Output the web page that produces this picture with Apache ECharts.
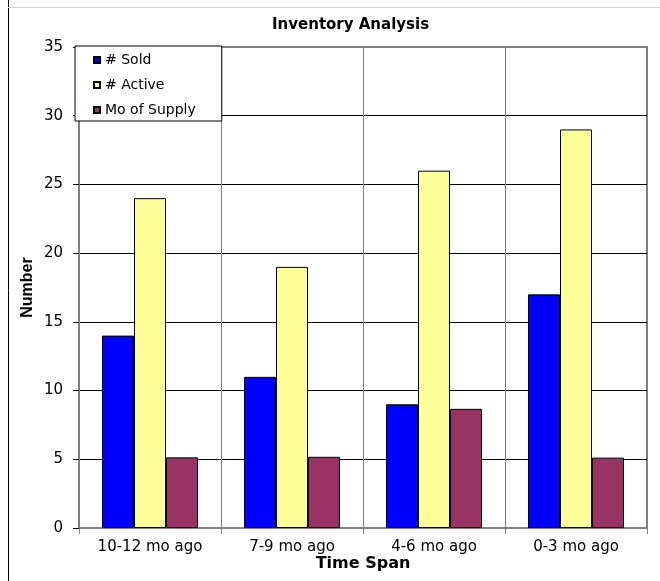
<!DOCTYPE html>
<html>
<head>
<meta charset="utf-8">
<script src="https://cdn.jsdelivr.net/npm/echarts@6/dist/echarts.min.js"></script>
<style>
html,body{margin:0;padding:0;background:#fff;}
#chart{width:660px;height:581px;}
</style>
</head>
<body>
<div id="chart"></div>
<script>
var categories = ['10-12 mo ago', '7-9 mo ago', '4-6 mo ago', '0-3 mo ago'];
var soldValues = [14, 11, 9, 17];
var activeValues = [24, 19, 26, 29];
var supplyValues = [5.14, 5.18, 8.67, 5.12];
var seriesNames = ['# Sold', '# Active', 'Mo of Supply'];

var FONT = 'DejaVu Sans';
var chart = echarts.init(document.getElementById('chart'));
var barStyle = function (c) {
  return { color: c, borderColor: '#000', borderWidth: 1 };
};
chart.setOption({
  animation: false,
  backgroundColor: '#fff',
  title: {
    text: 'Inventory Analysis',
    left: 272, top: 18, padding: 0,
    textStyle: { fontFamily: FONT, fontSize: 15, fontWeight: 'bold', color: '#000' }
  },
  legend: {
    data: seriesNames,
    orient: 'vertical',
    left: 75, top: 46,
    padding: [7, 26, 4, 18],
    itemWidth: 6, itemHeight: 6,
    itemGap: 11,
    icon: 'rect',
    backgroundColor: '#fff',
    borderColor: '#000', borderWidth: 1,
    textStyle: { fontFamily: FONT, fontSize: 14, color: '#000', lineHeight: 14 }
  },
  grid: {
    left: 79, right: 13, top: 47, bottom: 53,
    show: true, borderColor: '#808080', borderWidth: 2, backgroundColor: '#fff'
  },
  xAxis: {
    type: 'category',
    data: categories,
    name: 'Time Span',
    nameLocation: 'middle',
    nameGap: 28,
    nameMoveOverlap: false,
    nameTextStyle: { fontFamily: FONT, fontSize: 16, fontWeight: 'bold', color: '#000' },
    axisLine: { lineStyle: { color: '#808080', width: 1.5 } },
    axisTick: { show: true, length: 6, lineStyle: { color: '#808080' } },
    axisLabel: { fontFamily: FONT, fontSize: 15, color: '#000', margin: 12 },
    splitLine: { show: true, lineStyle: { color: '#808080', width: 1 } }
  },
  yAxis: {
    type: 'value',
    min: 0, max: 35, interval: 5,
    name: 'Number',
    nameLocation: 'middle',
    nameGap: 43,
    nameMoveOverlap: false,
    nameTextStyle: { fontFamily: 'Liberation Sans', fontSize: 16, fontWeight: 'bold', color: '#000' },
    axisLine: { show: true, lineStyle: { color: '#808080', width: 1.5 } },
    axisTick: { show: true, length: 6, lineStyle: { color: '#000' } },
    axisLabel: { fontFamily: FONT, fontSize: 15, color: '#000', margin: 16 },
    splitLine: { show: true, lineStyle: { color: ['#808080', '#000', '#000', '#000', '#000', '#000', '#000', '#808080'], width: 1 } }
  },
  series: [
    { name: seriesNames[0], type: 'bar', data: soldValues, barWidth: 32, barGap: '0%', itemStyle: barStyle('#0000FF') },
    { name: seriesNames[1], type: 'bar', data: activeValues, barWidth: 32, barGap: '0%', itemStyle: barStyle('#FFFF99') },
    { name: seriesNames[2], type: 'bar', data: supplyValues, barWidth: 32, barGap: '0%', itemStyle: barStyle('#993366') }
  ],
  graphic: [
    { type: 'line', shape: { x1: 8.5, y1: 0, x2: 8.5, y2: 581 }, style: { stroke: '#000', lineWidth: 1 } },
    { type: 'line', shape: { x1: 8, y1: 7.5, x2: 660, y2: 7.5 }, style: { stroke: '#d4d4d4', lineWidth: 1 } }
  ]
});
</script>
</body>
</html>
